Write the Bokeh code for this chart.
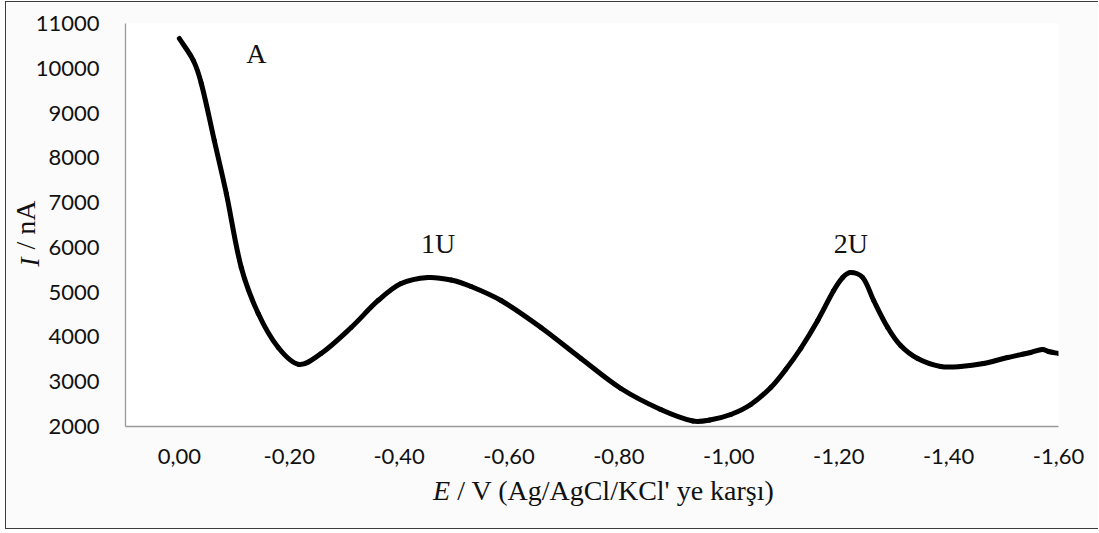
import math
from bokeh.plotting import figure
from bokeh.models import Range1d, FixedTicker, CustomJSTickFormatter, Label
from bokeh.embed import file_html
from bokeh.resources import INLINE

# ---- data ----
potential = [0.000, -0.0255, -0.040, -0.0636, -0.0855, -0.1127, -0.1436, -0.180, -0.218,
             -0.258, -0.3127, -0.3618, -0.4036, -0.4527, -0.4945, -0.5309, -0.5855, -0.658,
             -0.731, -0.8036, -0.876, -0.9345, -0.9655, -1.0036, -1.040, -1.0764, -1.1036,
             -1.1309, -1.1618, -1.1909, -1.2073, -1.2218, -1.2436, -1.2636, -1.2891, -1.3127,
             -1.3436, -1.3855, -1.4218, -1.4636, -1.5073, -1.5491, -1.5709, -1.5818, -1.600]
current = [10665, 10174, 9660, 8387, 7204, 5551, 4524, 3764, 3385,
           3630, 4211, 4814, 5194, 5328, 5272, 5127, 4814, 4211,
           3519, 2849, 2380, 2123, 2145, 2268, 2491, 2871, 3273,
           3742, 4367, 5037, 5328, 5439, 5328, 4814, 4211, 3809,
           3519, 3340, 3340, 3407, 3541, 3653, 3720, 3675, 3630]

x_ticks = [0.0, -0.2, -0.4, -0.6, -0.8, -1.0, -1.2, -1.4, -1.6]
y_ticks = [2000, 3000, 4000, 5000, 6000, 7000, 8000, 9000, 10000, 11000]

peak_names = ["A", "1U", "2U"]
peak_x = [-0.14, -0.471, -1.222]
peak_y = [10330, 6090, 6090]

x_title_italic = "E"
x_title_rest = "\u00a0/ V (Ag/AgCl/KCl' ye karşı)"
y_title_italic = "I"
y_title_rest = "/ nA"

# ---- layout (page pixels) ----
X_START, X_END = 0.098, -1.6
Y_START, Y_END = 2000, 11000
FRAME_L, FRAME_R, FRAME_T, FRAME_B = 124, 1058, 23, 426
SX = (FRAME_R - FRAME_L) / abs(X_END - X_START)
SY = (FRAME_B - FRAME_T) / (Y_END - Y_START)


def px_to_x(px):
    return X_START + (px - FRAME_L) * (X_END - X_START) / (FRAME_R - FRAME_L)


def px_to_y(py):
    return Y_START + (FRAME_B - py) * (Y_END - Y_START) / (FRAME_B - FRAME_T)


p = figure(width=1093, height=528, output_backend="svg", toolbar_location=None,
           x_range=Range1d(X_START, X_END), y_range=Range1d(Y_START, Y_END),
           min_border_left=118, min_border_right=41, min_border_top=21, min_border_bottom=104)
p.styles = {"margin-left": "5px", "margin-top": "1px",
            "border-left": "1px solid #3c3c3c", "border-top": "1px solid #3c3c3c",
            "border-bottom": "1px solid #3c3c3c"}
p.background_fill_color = "white"
p.border_fill_color = "#fbfbfb"
p.outline_line_color = None
p.xgrid.visible = False
p.ygrid.visible = False

# smooth curve through the read points: cubic Hermite segments (chord-length
# parameterisation in screen space), drawn as Bezier glyphs
n = len(potential)
t = [0.0]
for i in range(1, n):
    t.append(t[-1] + math.hypot((potential[i] - potential[i - 1]) * SX,
                                (current[i] - current[i - 1]) * SY))
mx, my = [], []
for i in range(n):
    a, b = max(i - 1, 0), min(i + 1, n - 1)
    mx.append((potential[b] - potential[a]) / (t[b] - t[a]))
    my.append((current[b] - current[a]) / (t[b] - t[a]))
bx0, by0, bx1, by1, c0x, c0y, c1x, c1y = [], [], [], [], [], [], [], []
for i in range(n - 1):
    h = (t[i + 1] - t[i]) / 3
    bx0.append(potential[i]); by0.append(current[i])
    bx1.append(potential[i + 1]); by1.append(current[i + 1])
    c0x.append(potential[i] + mx[i] * h); c0y.append(current[i] + my[i] * h)
    c1x.append(potential[i + 1] - mx[i + 1] * h); c1y.append(current[i + 1] - my[i + 1] * h)
p.bezier(x0=bx0, y0=by0, x1=bx1, y1=by1, cx0=c0x, cy0=c0y, cx1=c1x, cy1=c1y,
         line_color="black", line_width=5, line_cap="round")

serif = "Liberation Serif"
fs = "28px"
ink = "#111111"

for ax in (p.xaxis[0], p.yaxis[0]):
    ax.axis_line_color = "#9a9a9a"
    ax.axis_line_width = 1.3
    ax.major_tick_line_color = None
    ax.minor_tick_line_color = None
    ax.major_tick_out = 0
    ax.major_tick_in = 0
    ax.minor_tick_out = 0
    ax.major_label_text_font = "Lato"
    ax.major_label_text_font_size = "22px"
    ax.major_label_text_color = ink

p.xaxis[0].ticker = FixedTicker(ticks=x_ticks)
p.xaxis[0].formatter = CustomJSTickFormatter(code="return tick.toFixed(2).replace('.', ',');")
p.xaxis[0].major_label_standoff = 22
p.yaxis[0].ticker = FixedTicker(ticks=y_ticks)
p.yaxis[0].major_label_standoff = 26
p.yaxis[0].axis_label = y_title_rest
p.yaxis[0].axis_label_text_font = serif
p.yaxis[0].axis_label_text_font_size = fs
p.yaxis[0].axis_label_text_font_style = "normal"
p.yaxis[0].axis_label_text_color = ink
p.yaxis[0].axis_label_standoff = -8

for name, xv, yv in zip(peak_names, peak_x, peak_y):
    p.add_layout(Label(x=xv, y=yv, text=name, text_font=serif, text_font_size=fs,
                       text_align="center", text_baseline="middle", text_color=ink))

# axis title pieces placed in side panels (not clipped to the frame)
xt_x, xt_y = px_to_x(449), px_to_y(490)
p.add_layout(Label(x=xt_x, y=xt_y, text=x_title_italic, text_font=serif, text_font_style="italic",
                   text_font_size=fs, text_align="right", text_baseline="middle",
                   text_color=ink), "below")
p.add_layout(Label(x=xt_x, y=xt_y, text=x_title_rest, text_font=serif, text_font_size=fs,
                   text_align="left", text_baseline="middle", text_color=ink), "below")
p.add_layout(Label(x=px_to_x(28), y=px_to_y(257), text=y_title_italic, text_font=serif,
                   text_font_style="italic", text_font_size=fs, angle=math.pi / 2,
                   text_align="right", text_baseline="middle", text_color=ink), "right")

open("out.html", "w").write(file_html(p, INLINE))
